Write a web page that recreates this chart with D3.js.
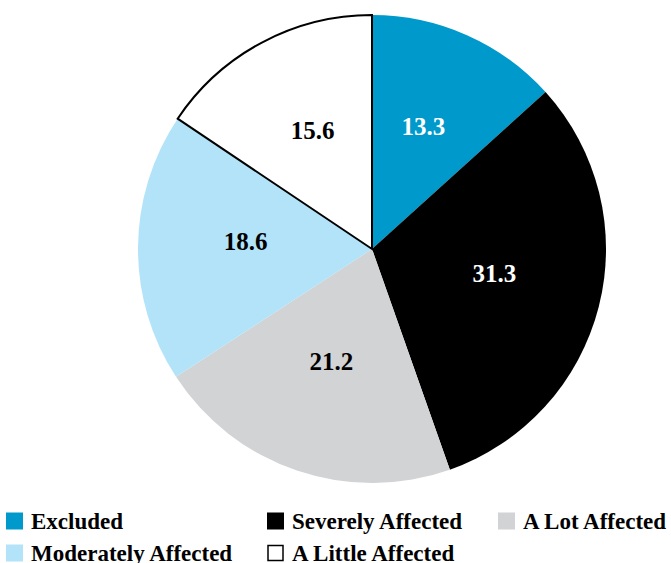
<!DOCTYPE html>
<html>
<head>
<meta charset="utf-8">
<script src="https://cdn.jsdelivr.net/npm/d3@7"></script>
<style>
  body { margin: 0; background: #fff; }
  svg text { font-family: "Liberation Serif", "Times New Roman", serif; font-weight: bold; }
</style>
</head>
<body>
<div id="chart"></div>
<script>
const categories = ["Excluded", "Severely Affected", "A Lot Affected", "Moderately Affected", "A Little Affected"];
const values = [13.3, 31.3, 21.2, 18.6, 15.6];
const colors = ["#0099cc", "#000000", "#d2d3d5", "#b3e3f8", "#ffffff"];
const labelColors = ["#ffffff", "#ffffff", "#000000", "#000000", "#000000"];

const width = 671;
const height = 563;
const cx = 372, cy = 249, radius = 234;

const svg = d3.select("#chart")
              .append("svg")
              .attr("width", width)
              .attr("height", height)

const data = categories.map((c, i) => ({ name: c, value: values[i], i: i }))

const pie = d3.pie()
              .value(d => d.value)
              .sort(null)

const arc = d3.arc().innerRadius(0).outerRadius(radius)
const labelArc = d3.arc().innerRadius(radius * 0.54).outerRadius(radius * 0.54)

const g = svg.append("g")
             .attr("transform", `translate(${cx},${cy})`)

const arcs = pie(data)

g.selectAll("path")
 .data(arcs)
 .enter()
 .append("path")
 .attr("d", arc)
 .attr("fill", d => colors[d.data.i])
 .attr("stroke", d => d.data.i === 4 ? "#000" : "none")
 .attr("stroke-width", 2)
 .attr("stroke-linejoin", "miter")

g.selectAll("text")
 .data(arcs)
 .enter()
 .append("text")
 .attr("transform", d => {
   const c = labelArc.centroid(d)
   return `translate(${c[0]},${c[1] - 7})`
 })
 .attr("text-anchor", "middle")
 .attr("dy", "0.35em")
 .attr("font-size", 25)
 .attr("fill", d => labelColors[d.data.i])
 .text(d => d.data.value.toFixed(1))

// legend
const legendPos = [[6, 521], [267, 521], [498, 521], [6, 553], [267, 553]]

const legend = svg.selectAll("g.legend")
                  .data(data)
                  .enter()
                  .append("g")
                  .attr("class", "legend")
                  .attr("transform", d => `translate(${legendPos[d.i][0]},${legendPos[d.i][1]})`)

legend.append("rect")
      .attr("x", d => d.i === 4 ? 1 : 0)
      .attr("y", d => d.i === 4 ? -7.5 : -8.5)
      .attr("width", d => d.i === 4 ? 15 : 17)
      .attr("height", d => d.i === 4 ? 15 : 17)
      .attr("fill", d => colors[d.i])
      .attr("stroke", d => d.i === 4 ? "#000" : "none")
      .attr("stroke-width", 1.5)

legend.append("text")
      .attr("x", 25)
      .attr("y", 0)
      .attr("dy", "0.35em")
      .attr("font-size", 23)
      .attr("fill", "#000")
      .text(d => d.name)
</script>
</body>
</html>
